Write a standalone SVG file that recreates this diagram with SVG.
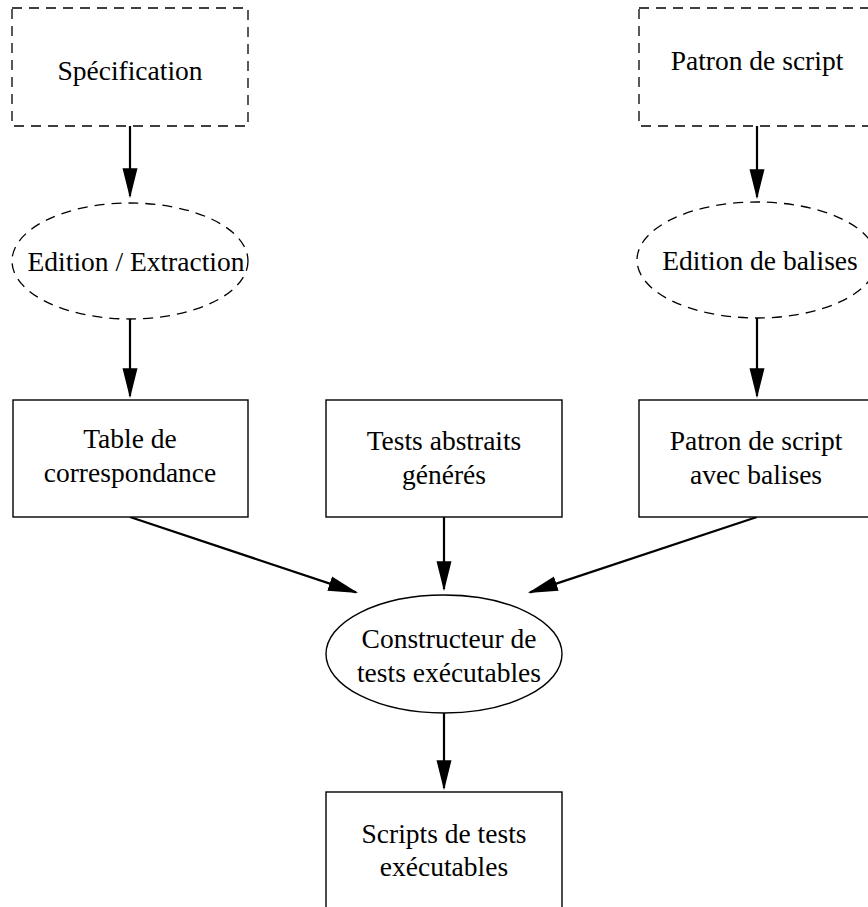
<svg xmlns="http://www.w3.org/2000/svg" width="868" height="907" viewBox="0 0 868 907">
<style>
.solid{fill:#fff;stroke:#000;stroke-width:1.4}
.dash{fill:#fff;stroke:#000;stroke-width:1.3;stroke-dasharray:10 7}
.lbl{font-family:"Liberation Serif","Times New Roman",serif;font-size:27.5px;fill:#000;text-anchor:middle}
.edge{stroke:#000;stroke-width:2.2;fill:none;marker-end:url(#ah)}
</style>
<defs>
<marker id="ah" markerUnits="userSpaceOnUse" markerWidth="30" markerHeight="16" viewBox="0 0 28 14" refX="26" refY="7" orient="auto">
<path d="M0,0 L28,7 L0,14 z" fill="#000"/>
</marker>
</defs>
<rect width="868" height="907" fill="#fff"/>
<g id="connectors">
<line class="edge" x1="130" y1="126" x2="130" y2="196"/>
<line class="edge" x1="130" y1="319" x2="130" y2="396"/>
<line class="edge" x1="757" y1="126" x2="757" y2="197"/>
<line class="edge" x1="757" y1="318" x2="757" y2="396"/>
<line class="edge" x1="130" y1="517" x2="356.1" y2="592.4"/>
<line class="edge" x1="444" y1="517" x2="444" y2="589"/>
<line class="edge" x1="757" y1="517" x2="529.9" y2="592.4"/>
<line class="edge" x1="444" y1="713" x2="444" y2="788"/>
</g>
<g id="specification">
<rect class="dash" x="12" y="8" width="236" height="118"/>
<text class="lbl" x="130" y="80">Spécification</text>
</g>
<g id="patron-script">
<rect class="dash" x="639" y="8" width="236" height="118"/>
<text class="lbl" x="757" y="70">Patron de script</text>
</g>
<g id="edition-extraction">
<ellipse class="dash" cx="130" cy="261" rx="118" ry="58"/>
<text class="lbl" x="136" y="271">Edition / Extraction</text>
</g>
<g id="edition-balises">
<ellipse class="dash" cx="757" cy="260" rx="120" ry="58"/>
<text class="lbl" x="760" y="270">Edition de balises</text>
</g>
<g id="table-correspondance">
<rect class="solid" x="13" y="400" width="235" height="117"/>
<text class="lbl" x="130" y="448">Table de</text>
<text class="lbl" x="130" y="482">correspondance</text>
</g>
<g id="tests-abstraits">
<rect class="solid" x="326" y="400" width="236" height="117"/>
<text class="lbl" x="444" y="450">Tests abstraits</text>
<text class="lbl" x="444" y="484">générés</text>
</g>
<g id="patron-balises">
<rect class="solid" x="639" y="400" width="236" height="117"/>
<text class="lbl" x="756" y="450">Patron de script</text>
<text class="lbl" x="756" y="484">avec balises</text>
</g>
<g id="constructeur">
<ellipse class="solid" cx="444" cy="654" rx="118" ry="59"/>
<text class="lbl" x="449" y="648">Constructeur de</text>
<text class="lbl" x="449" y="682">tests exécutables</text>
</g>
<g id="scripts">
<rect class="solid" x="326" y="792" width="236" height="117"/>
<text class="lbl" x="444" y="843">Scripts de tests</text>
<text class="lbl" x="444" y="876">exécutables</text>
</g>
</svg>
